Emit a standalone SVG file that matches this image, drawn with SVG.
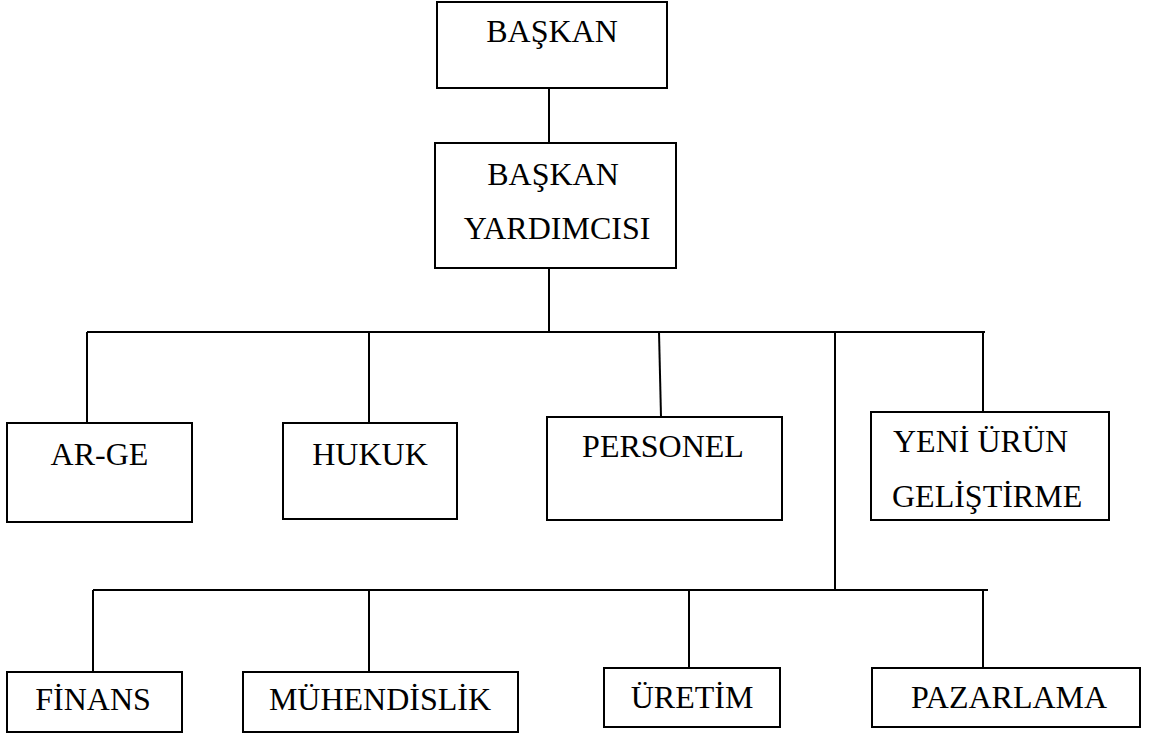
<svg xmlns="http://www.w3.org/2000/svg" width="1151" height="735" viewBox="0 0 1151 735">
  <style>
    .box { fill: #ffffff; stroke: #000000; stroke-width: 2; }
    .wire { fill: none; stroke: #000000; stroke-width: 2; }
    .lbl { font-family: "Liberation Serif", "Times New Roman", serif; font-size: 32px; fill: #000000; }
    .mid { text-anchor: middle; }
  </style>
  <rect width="1151" height="735" fill="#ffffff"/>

  <!-- connectors -->
  <g id="connectors">
    <line class="wire" x1="549" y1="88" x2="549" y2="143"/>
    <line class="wire" x1="549" y1="268" x2="549" y2="332"/>
    <line class="wire" x1="87" y1="332" x2="985" y2="332"/>
    <line class="wire" x1="87" y1="332" x2="87" y2="423"/>
    <line class="wire" x1="369" y1="332" x2="369" y2="423"/>
    <line class="wire" x1="659" y1="332" x2="661" y2="417"/>
    <line class="wire" x1="983" y1="332" x2="983" y2="412"/>
    <line class="wire" x1="835" y1="332" x2="835" y2="590"/>
    <line class="wire" x1="93" y1="590" x2="988" y2="590"/>
    <line class="wire" x1="93" y1="590" x2="93" y2="672"/>
    <line class="wire" x1="369" y1="590" x2="369" y2="672"/>
    <line class="wire" x1="689" y1="590" x2="689" y2="668"/>
    <line class="wire" x1="983" y1="590" x2="983" y2="668"/>
  </g>

  <g id="baskan">
    <rect class="box" x="437" y="2" width="230" height="86"/>
    <text class="lbl mid" x="552" y="42">BAŞKAN</text>
  </g>

  <g id="baskan-yardimcisi">
    <rect class="box" x="435" y="143" width="241" height="125"/>
    <text class="lbl mid" x="553" y="185">BAŞKAN</text>
    <text class="lbl mid" x="557" y="239">YARDIMCISI</text>
  </g>

  <g id="ar-ge">
    <rect class="box" x="7" y="423" width="185" height="99"/>
    <text class="lbl mid" x="99.5" y="465">AR-GE</text>
  </g>

  <g id="hukuk">
    <rect class="box" x="283" y="423" width="174" height="96"/>
    <text class="lbl mid" x="370" y="465">HUKUK</text>
  </g>

  <g id="personel">
    <rect class="box" x="547" y="417" width="235" height="103"/>
    <text class="lbl mid" x="663" y="457">PERSONEL</text>
  </g>

  <g id="yeni-urun">
    <rect class="box" x="871" y="412" width="238" height="108"/>
    <text class="lbl" x="893" y="452">YENİ ÜRÜN</text>
    <text class="lbl" x="892" y="507">GELİŞTİRME</text>
  </g>

  <g id="finans">
    <rect class="box" x="7" y="672" width="175" height="60"/>
    <text class="lbl mid" x="93" y="710">FİNANS</text>
  </g>

  <g id="muhendislik">
    <rect class="box" x="243" y="672" width="275" height="60"/>
    <text class="lbl mid" x="380" y="710">MÜHENDİSLİK</text>
  </g>

  <g id="uretim">
    <rect class="box" x="604" y="668" width="176" height="59"/>
    <text class="lbl mid" x="692" y="708">ÜRETİM</text>
  </g>

  <g id="pazarlama">
    <rect class="box" x="872" y="668" width="268" height="59"/>
    <text class="lbl mid" x="1009" y="708">PAZARLAMA</text>
  </g>
</svg>
